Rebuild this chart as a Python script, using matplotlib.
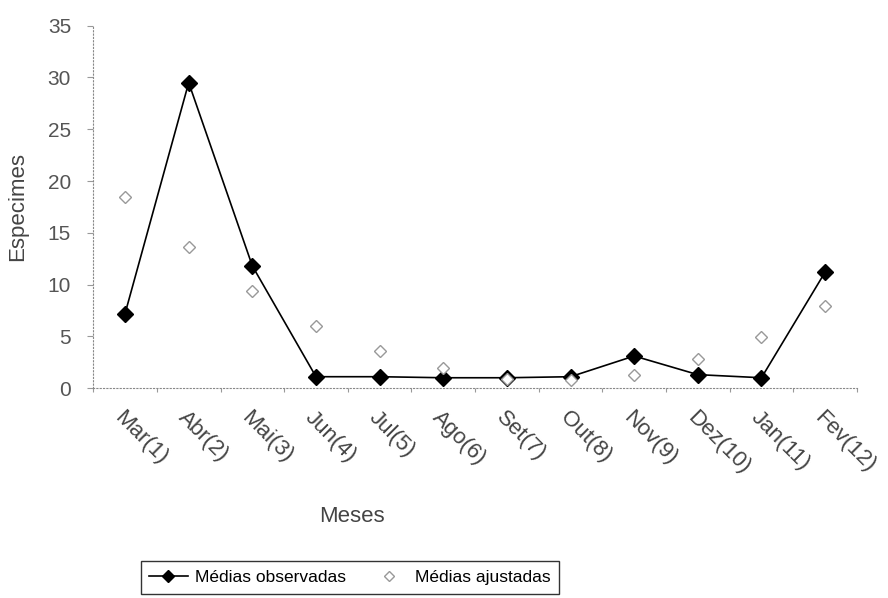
import matplotlib.pyplot as plt
import numpy as np

plt.rcParams['font.family'] = ['Liberation Sans', 'DejaVu Sans']

meses = ['Mar(1)', 'Abr(2)', 'Mai(3)', 'Jun(4)', 'Jul(5)', 'Ago(6)',
         'Set(7)', 'Out(8)', 'Nov(9)', 'Dez(10)', 'Jan(11)', 'Fev(12)']
observadas = [7.2, 29.5, 11.8, 1.1, 1.1, 1.0, 1.0, 1.1, 3.1, 1.3, 1.0, 11.2]
ajustadas = [18.5, 13.6, 9.4, 6.0, 3.6, 1.9, 0.9, 0.8, 1.3, 2.8, 4.9, 7.9]

x = np.arange(len(meses))

fig = plt.figure(figsize=(8.88, 5.98), dpi=100)
ax = fig.add_axes([0.105, 0.351, 0.86, 0.606])

l1, = ax.plot(x, observadas, color='black', lw=1.2, marker='D', ms=8,
              mfc='black', mec='black', label='Médias observadas')
l2, = ax.plot(x, ajustadas, ls='none', marker='D', ms=6.5, mfc='white',
              mec='#999999', mew=1.0, label='Médias ajustadas')

ax.set_xlim(-0.5, len(meses) - 0.5)
ax.set_ylim(0, 35)
ax.set_yticks(range(0, 36, 5))
ax.set_xticks(np.arange(-0.5, len(meses), 1), minor=False)
ax.set_xticklabels([])
ax.set_xticks(x, minor=True)
ax.set_xticklabels(meses, minor=True, rotation=-45, ha='left',
                   rotation_mode='anchor', fontsize=16, color='#444444')
ax.tick_params(axis='x', which='minor', length=0, pad=14)
ax.tick_params(axis='x', which='major', length=3, color='#999999')
ax.tick_params(axis='y', length=4, color='#999999', labelsize=15,
               labelcolor='#555555', pad=12)

for s in ['top', 'right']:
    ax.spines[s].set_visible(False)
for s in ['left', 'bottom']:
    ax.spines[s].set_linestyle((0, (1, 2)))
    ax.spines[s].set_color('#888888')
    ax.spines[s].set_linewidth(0.8)

ax.set_ylabel('Especimes', fontsize=16, color='#444444', labelpad=14)
fig.text(352 / 888, 1 - 517 / 598, 'Meses', fontsize=16, color='#444444',
         ha='center', va='center')

fig.legend(handles=[l1, l2], loc='upper center',
           bbox_to_anchor=(350 / 888, 1 - 561 / 598), ncol=2,
           frameon=True, fancybox=False, edgecolor='black',
           prop={'size': 12.5}, markerscale=0.75,
           handlelength=2.2, handletextpad=0.4, columnspacing=1.4,
           borderpad=0.5, borderaxespad=0)

plt.savefig('out.png', format='png')
